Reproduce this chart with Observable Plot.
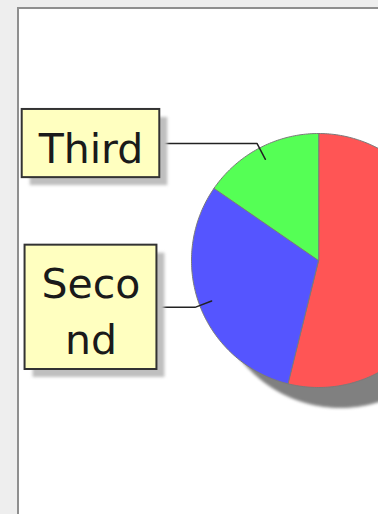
<!DOCTYPE html>
<html><head><meta charset="utf-8">
<script src="https://cdn.jsdelivr.net/npm/d3@7"></script>
<script src="https://cdn.jsdelivr.net/npm/@observablehq/plot@0.6"></script>
<style>
html,body{margin:0;padding:0;width:378px;height:514px;overflow:hidden;background:#eeeeee;}
#panel{position:absolute;left:17px;top:7px;width:420px;height:560px;background:#fff;border-left:2px solid #8f8f8f;border-top:2px solid #8f8f8f;}
#chart{position:absolute;left:0;top:0;}
</style></head>
<body><div id="panel"></div><div id="chart"></div>
<script>
// ---- data ----
const categories = ["First", "Second", "Third"];
const values = [7, 4, 2];
const colors = ["#ff5555", "#5555ff", "#55ff55"];

// ---- layout ----
const W = 378, H = 514;
const CX = 318, CY = 260, R = 127;
const LABEL_OFFSET = 227.5;
const FS = 41, LH = 1.37, MAXW = 115, PADX = 33, PADY = 12;

const ctx = document.createElement("canvas").getContext("2d");
ctx.font = `${FS}px "DejaVu Sans"`;
function wrap(s) {
  const lines = []; let cur = "";
  for (const ch of s) {
    if (cur && ctx.measureText(cur + ch).width > MAXW) { lines.push(cur); cur = ch; }
    else cur += ch;
  }
  if (cur) lines.push(cur);
  return lines;
}

const arcs = d3.pie().sort(null)(values);
const dir = a => [Math.sin(a), -Math.cos(a)];

const sliceRows = [];
const linkRows = [];
const labels = [];
arcs.forEach((arc, i) => {
  const name = categories[i];
  sliceRows.push({name, x: 0, y: 0});
  const n = Math.max(2, Math.ceil((arc.endAngle - arc.startAngle) / (Math.PI / 180)));
  for (let k = 0; k <= n; k++) {
    const a = arc.startAngle + (arc.endAngle - arc.startAngle) * k / n;
    const [dx, dy] = dir(a);
    sliceRows.push({name, x: R * dx, y: R * dy});
  }
  const mid = (arc.startAngle + arc.endAngle) / 2;
  const [mx, my] = dir(mid);
  const side = mx < 0 ? -1 : 1;
  const ex = 1.04 * R * mx, ey = 1.04 * R * my;
  const lx = side * LABEL_OFFSET;
  linkRows.push({name, x: 0.9 * R * mx, y: 0.9 * R * my});
  linkRows.push({name, x: ex, y: ey});
  linkRows.push({name, x: lx, y: ey});
  const lines = wrap(name);
  const tw = d3.max(lines, l => ctx.measureText(l).width);
  const w = tw + PADX, h = lines.length * FS * LH + PADY;
  labels.push({name, text: lines.join("\n"), lx, ly: ey,
    x1: lx - w / 2, x2: lx + w / 2, y1: ey - h / 2, y2: ey + h / 2});
});
// labels whose box lies entirely beyond the visible panel are not drawn
const shown = labels.filter(d => d.x1 + CX < W);

const shadowRows = d3.range(0, 361, 1).map(d => {
  const [dx, dy] = dir(d * Math.PI / 180);
  return {x: R * dx, y: R * dy};
});

const chart = Plot.plot({
  width: W, height: H,
  margin: 0,
  style: {background: "transparent", overflow: "visible"},
  x: {domain: [-CX, W - CX], range: [0, W], axis: null},
  y: {domain: [-CY, H - CY], range: [0, H], axis: null},
  color: {domain: categories, range: colors},
  marks: [
    Plot.line(shadowRows, {x: "x", y: "y", fill: "#808080", stroke: "#808080", strokeWidth: 1, curve: "linear-closed", dx: 22, dy: 20}),
    Plot.line(sliceRows, {x: "x", y: "y", z: "name", fill: "name", stroke: "#7a7a7a", strokeWidth: 1, curve: "linear-closed"}),
    Plot.line(linkRows, {x: "x", y: "y", z: "name", stroke: "#222", strokeWidth: 1.5}),
    Plot.rect(shown, {x1: "x1", x2: "x2", y1: "y1", y2: "y2", fill: "#bfbfbf", dx: 8, dy: 8}),
    Plot.rect(shown, {x1: "x1", x2: "x2", y1: "y1", y2: "y2", fill: "#ffffc0", stroke: "#333", strokeWidth: 2}),
    Plot.text(shown, {x: "lx", y: "ly", text: "text", fontSize: FS, fontFamily: "DejaVu Sans", lineHeight: LH, fill: "#1a1a1a", dy: 1})
  ]
});
// soften the shadows
const lineGroups = chart.querySelectorAll('g[aria-label="line"]');
if (lineGroups[0]) lineGroups[0].style.filter = "blur(1.5px)";
const rectGroups = chart.querySelectorAll('g[aria-label="rect"]');
if (rectGroups[0]) rectGroups[0].style.filter = "blur(1.5px)";
document.getElementById("chart").appendChild(chart);
</script>
</body></html>
